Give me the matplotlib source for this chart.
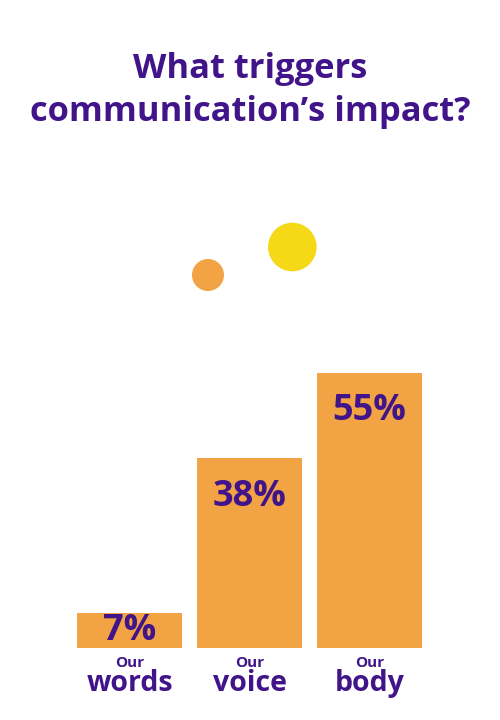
import matplotlib
matplotlib.use("Agg")
import matplotlib.pyplot as plt

# Data
categories = ["words", "voice", "body"]
prefix = "Our"
values = [7, 38, 55]
title_lines = ["What triggers", "communication\u2019s impact?"]

# Decorative dots (x in bar-index units, y in percent units)
dot_x = [0.654, 1.357]
dot_y = [74.6, 80.2]
dot_size = [531, 1225]
dot_colors = ["#f2a444", "#f5d916"]

purple = "#41148a"
orange = "#f2a444"
plt.rcParams['font.family'] = ['Open Sans', 'DejaVu Sans']

fig = plt.figure(figsize=(5, 7.2), dpi=100)
ax = fig.add_axes([0, 72 / 720, 1, 500 / 720])
ax.set_xlim(-129.5 / 120, (500 - 129.5) / 120)
ax.set_ylim(0, 100)
ax.axis("off")

x = range(len(categories))
ax.bar(x, values, width=0.875, color=orange)

for i, v in enumerate(values):
    y = max(v / 2 - 0.2, v - 7.7)
    ax.text(i, y, f"{v}%", ha="center", va="center", fontsize=26,
            fontweight="bold", color=purple)
    ax.text(i, -3.8, prefix, ha="center", va="baseline", fontsize=11,
            fontweight="bold", color=purple, clip_on=False)
    ax.text(i, -8.6, categories[i], ha="center", va="baseline", fontsize=20.5,
            fontweight="bold", color=purple, clip_on=False)

ax.scatter(dot_x, dot_y, s=dot_size, c=dot_colors, linewidths=0, zorder=3)

fig.text(0.5, 1 - 78 / 720, title_lines[0], ha="center", va="baseline",
         fontsize=24.8, fontweight="bold", color=purple)
fig.text(0.5, 1 - 121 / 720, title_lines[1], ha="center", va="baseline",
         fontsize=24.8, fontweight="bold", color=purple)

fig.savefig("out.png", dpi=100, facecolor="white")
